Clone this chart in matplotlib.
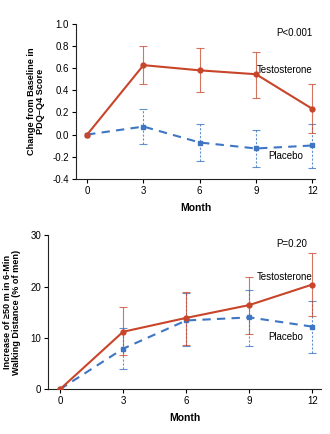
import matplotlib
matplotlib.use("Agg")
import matplotlib.pyplot as plt
import numpy as np

months = [0, 3, 6, 9, 12]

# Panel 1: Change from baseline in PDQ-Q4 score
pdq_t = [0.0, 0.627, 0.58, 0.545, 0.232]
pdq_t_lo = [0.0, 0.455, 0.38, 0.334, 0.012]
pdq_t_hi = [0.0, 0.80, 0.786, 0.747, 0.455]
pdq_p = [0.0, 0.072, -0.072, -0.126, -0.099]
pdq_p_lo = [0.0, -0.084, -0.241, -0.295, -0.298]
pdq_p_hi = [0.0, 0.229, 0.093, 0.039, 0.093]

# Panel 2: Increase >=50 m in 6-min walking distance (% of men)
walk_t = [0.0, 11.2, 13.9, 16.4, 20.4]
walk_t_lo = [0.0, 6.6, 8.6, 10.7, 14.3]
walk_t_hi = [0.0, 16.0, 19.0, 21.9, 26.5]
walk_p = [0.0, 7.9, 13.4, 14.0, 12.2]
walk_p_lo = [0.0, 3.9, 8.4, 8.4, 7.1]
walk_p_hi = [0.0, 11.9, 18.7, 19.3, 17.1]

RED = "#c8452a"
BLUE = "#3e76c4"
FONT = "Liberation Sans"
plt.rcParams["font.family"] = [FONT, "DejaVu Sans"]

fig = plt.figure(figsize=(3.30, 4.34), dpi=100)
ax1 = fig.add_axes([0.230, 0.588, 0.725, 0.357])
ax2 = fig.add_axes([0.146, 0.103, 0.826, 0.355])


def draw(ax, t, tlo, thi, p, plo, phi):
    x = np.array(months)
    t = np.array(t); p = np.array(p)
    terr = [t - np.array(tlo), np.array(thi) - t]
    perr = [p - np.array(plo), np.array(phi) - p]
    ebp = ax.errorbar(x[1:], p[1:], yerr=[perr[0][1:], perr[1][1:]], fmt="none",
                      ecolor=BLUE, elinewidth=0.8, capsize=2.6, capthick=0.8, alpha=0.8, zorder=2)
    for lc in ebp[2]:
        lc.set_linestyle((0, (2, 1.5)))
    ax.errorbar(x[1:], t[1:], yerr=[terr[0][1:], terr[1][1:]], fmt="none",
                ecolor=RED, elinewidth=0.8, capsize=2.6, capthick=0.8, alpha=0.75, zorder=2)
    ax.plot(x, p, color=BLUE, lw=1.5, ls=(0, (4, 3)), marker="s", ms=3.5, zorder=3)
    ax.plot(x, t, color=RED, lw=1.5, marker="o", ms=3.5, zorder=4)
    for s in ["top", "right"]:
        ax.spines[s].set_visible(False)
    for s in ["left", "bottom"]:
        ax.spines[s].set_linewidth(0.8)
        ax.spines[s].set_color("#222222")
    ax.set_xticks(months)
    ax.tick_params(labelsize=7, length=3, width=0.8, pad=2)
    ax.set_xlabel("Month", fontsize=7.5, fontweight="bold", labelpad=5)


draw(ax1, pdq_t, pdq_t_lo, pdq_t_hi, pdq_p, pdq_p_lo, pdq_p_hi)
ax1.set_xlim(-0.6, 12.15)
ax1.set_ylim(-0.4, 1.0)
ax1.set_yticks(np.arange(-0.4, 1.01, 0.2))
ax1.yaxis.set_major_formatter(matplotlib.ticker.FormatStrFormatter("%.1f"))
ax1.set_ylabel("Change from Baseline in\nPDQ\u2013Q4 Score", fontsize=6.6, fontweight="bold",
               linespacing=1.0, labelpad=5)
ax1.text(12.0, 0.916, "P<0.001", fontsize=7, ha="right", va="center")
ax1.text(9.05, 0.584, "Testosterone", fontsize=7, ha="left", va="center")
ax1.text(9.64, -0.193, "Placebo", fontsize=7, ha="left", va="center")

draw(ax2, walk_t, walk_t_lo, walk_t_hi, walk_p, walk_p_lo, walk_p_hi)
ax2.set_xlim(-0.56, 12.4)
ax2.set_ylim(0, 30)
ax2.set_yticks([0, 10, 20, 30])
ax2.set_ylabel("Increase of \u226550 m in 6-Min\nWalking Distance (% of men)", fontsize=6.6,
               fontweight="bold", linespacing=1.0, labelpad=7)
ax2.text(11.76, 28.2, "P=0.20", fontsize=7, ha="right", va="center")
ax2.text(9.38, 21.9, "Testosterone", fontsize=7, ha="left", va="center")
ax2.text(9.9, 10.1, "Placebo", fontsize=7, ha="left", va="center")

fig.savefig("out.png", dpi=100)
